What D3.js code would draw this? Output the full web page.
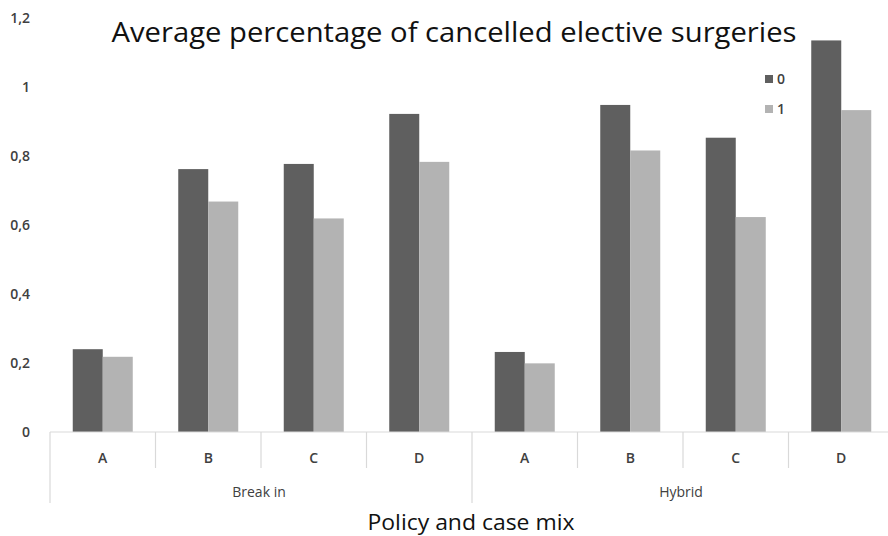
<!DOCTYPE html>
<html>
<head>
<meta charset="utf-8">
<script src="https://cdn.jsdelivr.net/npm/d3@7"></script>
<style>
  html, body { margin: 0; padding: 0; background: #fff; }
  svg { display: block; font-family: "Open Sans", Lato, sans-serif; }
</style>
</head>
<body>
<svg id="chart" width="888" height="536"></svg>
<script>
// Grouped bar data: policy groups, case mixes within each group, two series.
const policies = ["Break in", "Hybrid"];
const caseMixes = ["A", "B", "C", "D"];
const seriesNames = ["0", "1"];
const series0 = [0.24, 0.762, 0.777, 0.922, 0.232, 0.948, 0.853, 1.135];
const series1 = [0.218, 0.668, 0.619, 0.783, 0.199, 0.816, 0.623, 0.933];
const yTicks = [0, 0.2, 0.4, 0.6, 0.8, 1, 1.2];
const colors = ["#5f5f5f", "#b3b3b3"];

const svg = d3.select("#chart");

// Flattened category keys: policy|mix
const cats = [];
policies.forEach(p => caseMixes.forEach(m => cats.push(p + "|" + m)));
const rows = cats.map((c, i) => ({ key: c, mix: c.split("|")[1], vals: [series0[i], series1[i]] }));

const x = d3.scaleBand().domain(cats).range([50, 894]).paddingInner(0).paddingOuter(0);
const inner = d3.scaleBand().domain(seriesNames).range([0, 60]);
const y = d3.scaleLinear().domain([0, 1.2]).range([432, 18]);

const bw = x.bandwidth();

// Bars
const g = svg.append("g");
rows.forEach(r => {
  const x0 = x(r.key) + (bw - 60) / 2;
  r.vals.forEach((v, j) => {
    g.append("rect")
      .attr("x", x0 + inner(seriesNames[j]))
      .attr("y", y(v))
      .attr("width", inner.bandwidth())
      .attr("height", y(0) - y(v))
      .attr("fill", colors[j]);
  });
});

// Y axis labels (no line, no ticks)
const yAxis = d3.axisLeft(y).tickValues(yTicks).tickSize(0)
  .tickFormat(d => d3.format("~g")(d).replace(".", ","));
const ya = svg.append("g").attr("transform", "translate(33,0)").call(yAxis);
ya.select(".domain").remove();
ya.selectAll("text").attr("font-size", 14).attr("font-weight", 600)
  .attr("fill", "#404040").attr("font-family", "'Open Sans', sans-serif");

// X axis baseline and category dividers
const lineCol = "#d9d9d9";
svg.append("line").attr("x1", 50).attr("x2", 888).attr("y1", y(0)).attr("y2", y(0))
  .attr("stroke", lineCol).attr("stroke-width", 1.2);
cats.forEach((c, i) => {
  const xx = x(c);
  const isGroupStart = i % caseMixes.length === 0;
  svg.append("line").attr("x1", xx).attr("x2", xx)
    .attr("y1", y(0)).attr("y2", isGroupStart ? 503 : 468)
    .attr("stroke", lineCol).attr("stroke-width", 1.2);
});

// Case-mix labels
rows.forEach(r => {
  svg.append("text").attr("x", x(r.key) + bw / 2).attr("y", 463)
    .attr("text-anchor", "middle").attr("font-size", 14).attr("font-weight", 600)
    .attr("fill", "#404040").text(r.mix);
});

// Policy labels
policies.forEach(p => {
  const first = x(p + "|" + caseMixes[0]);
  const last = x(p + "|" + caseMixes[caseMixes.length - 1]) + bw;
  svg.append("text").attr("x", (first + last) / 2 - 2).attr("y", 497)
    .attr("text-anchor", "middle").attr("font-size", 14)
    .attr("fill", "#404040").text(p);
});

// Axis title
svg.append("text").attr("x", 471).attr("y", 530).attr("text-anchor", "middle")
  .attr("font-size", 21).attr("fill", "#111")
  .attr("textLength", 207).attr("lengthAdjust", "spacingAndGlyphs")
  .text("Policy and case mix");

// Chart title
svg.append("text").attr("x", 454).attr("y", 42).attr("text-anchor", "middle")
  .attr("font-size", 27).attr("fill", "#111")
  .attr("textLength", 685).attr("lengthAdjust", "spacingAndGlyphs")
  .text("Average percentage of cancelled elective surgeries");

// Legend
const leg = svg.append("g");
seriesNames.forEach((s, i) => {
  const ly = 79 + i * 30;
  leg.append("rect").attr("x", 765).attr("y", ly - 4).attr("width", 8).attr("height", 8)
    .attr("fill", colors[i]);
  leg.append("text").attr("x", 777).attr("y", ly + 5).attr("font-size", 14)
    .attr("font-weight", 600).attr("fill", "#404040").text(s);
});
</script>
</body>
</html>
